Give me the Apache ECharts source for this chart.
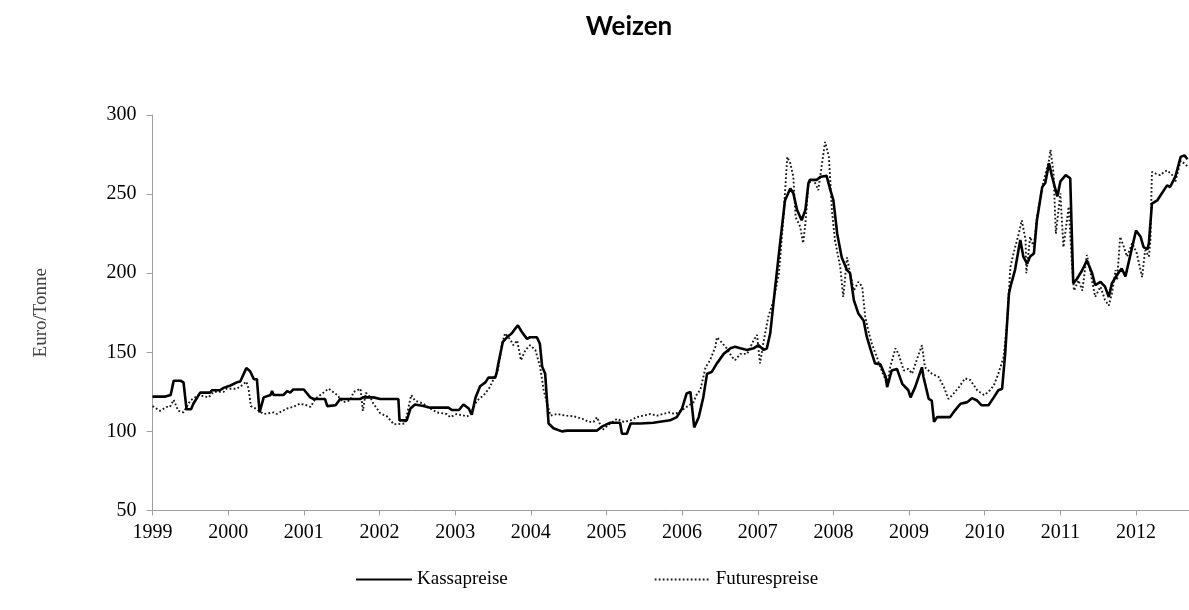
<!DOCTYPE html>
<html>
<head>
<meta charset="utf-8">
<title>Weizen</title>
<script src="https://cdn.jsdelivr.net/npm/echarts@6/dist/echarts.min.js"></script>
<style>
  html, body { margin: 0; padding: 0; background: #fff; }
  #chart { width: 1189px; height: 610px; }
</style>
</head>
<body>
<div id="chart"></div>
<script>
// Kassapreise (Euro/Tonne), Zeitpunkt in Dezimaljahren
var kassaDates = [
  1999.00, 1999.17, 1999.19, 1999.24, 1999.28, 1999.37, 1999.41, 1999.45, 1999.51, 1999.54,
  1999.63, 1999.76, 1999.785, 1999.89, 1999.94, 2000.03, 2000.115, 2000.16, 2000.24, 2000.29,
  2000.34, 2000.38, 2000.415, 2000.47, 2000.56, 2000.58, 2000.60, 2000.73, 2000.78, 2000.82,
  2000.86, 2001.00, 2001.085, 2001.13, 2001.28, 2001.31, 2001.42, 2001.48, 2001.75, 2001.78,
  2001.92, 2002.01, 2002.25, 2002.265, 2002.36, 2002.41, 2002.47, 2002.58, 2002.67, 2002.91,
  2002.96, 2003.05, 2003.11, 2003.18, 2003.22, 2003.27, 2003.33, 2003.40, 2003.44, 2003.53,
  2003.55, 2003.58, 2003.63, 2003.685, 2003.75, 2003.795, 2003.83, 2003.88, 2003.95, 2003.99,
  2004.08, 2004.12, 2004.15, 2004.19, 2004.235, 2004.30, 2004.41, 2004.48, 2004.875, 2004.94,
  2005.05, 2005.18, 2005.205, 2005.27, 2005.32, 2005.45, 2005.62, 2005.84, 2005.93, 2006.00,
  2006.06, 2006.11, 2006.13, 2006.16, 2006.22, 2006.28, 2006.33, 2006.39, 2006.46, 2006.55,
  2006.64, 2006.70, 2006.77, 2006.86, 2006.945, 2007.01, 2007.08, 2007.12, 2007.165, 2007.23,
  2007.30, 2007.36, 2007.43, 2007.47, 2007.52, 2007.58, 2007.63, 2007.67, 2007.69, 2007.78,
  2007.83, 2007.91, 2007.96, 2008.00, 2008.05, 2008.11, 2008.18, 2008.22, 2008.27, 2008.33,
  2008.40, 2008.44, 2008.49, 2008.51, 2008.55, 2008.62, 2008.69, 2008.71, 2008.77, 2008.84,
  2008.91, 2008.99, 2009.02, 2009.08, 2009.17, 2009.19, 2009.26, 2009.30, 2009.33, 2009.37,
  2009.54, 2009.61, 2009.68, 2009.77, 2009.83, 2009.90, 2009.96, 2010.05, 2010.12, 2010.18,
  2010.23, 2010.27, 2010.32, 2010.34, 2010.40, 2010.47, 2010.51, 2010.56, 2010.60, 2010.65,
  2010.69, 2010.76, 2010.80, 2010.85, 2010.89, 2010.96, 2011.00, 2011.07, 2011.13, 2011.17,
  2011.22, 2011.29, 2011.35, 2011.42, 2011.46, 2011.53, 2011.59, 2011.64, 2011.68, 2011.75,
  2011.81, 2011.86, 2011.92, 2012.00, 2012.06, 2012.10, 2012.15, 2012.17, 2012.21, 2012.28,
  2012.32, 2012.41, 2012.45, 2012.52, 2012.59, 2012.64, 2012.68
];
var kassaValues = [
  122, 122, 123, 123, 132, 132, 131, 114, 114, 117.5,
  124.5, 124.5, 126, 126, 127.5, 129, 131, 131.5, 140, 138,
  133, 133, 112, 121.5, 123, 125.5, 123, 123, 125.5, 124.5,
  126.5, 126.5, 121.5, 120.5, 120.5, 116, 116.5, 120.5, 120.5, 121.5,
  121.5, 120.5, 120.5, 107, 107, 114.5, 117, 116, 115, 115,
  113.5, 113.5, 117, 114.5, 110.5, 121.5, 128.5, 131, 134, 134,
  137.5, 145, 156.5, 159.5, 162, 165, 167, 163, 158.5, 159.5,
  159.5, 155.5, 141, 136.5, 105, 102, 100, 100.5, 100.5, 103,
  105.5, 105.5, 98.5, 98.5, 105, 105, 105.5, 107, 109, 114.5,
  124, 125, 124, 102.5, 109, 121.5, 136.5, 137.5, 143, 149,
  152.5, 153.5, 152.5, 151.5, 152.5, 154.5, 151.5, 152.5, 162, 191,
  221, 246, 253.5, 250.5, 240, 233.5, 240, 257, 259, 259,
  261, 261.5, 252.5, 246, 225, 210, 202, 200, 183, 174.5,
  170, 160, 152, 149, 143, 142.5, 134.5, 128, 138.5, 139.5,
  130, 126, 121.5, 128, 140.5, 134.5, 120.5, 119.5, 106, 109,
  109, 113.5, 117.5, 118.5, 121, 119.5, 116.5, 116.5, 121.5, 126,
  127, 149, 187, 191.5, 202, 221, 210.5, 206, 210.5, 212.5,
  233.5, 254.5, 257, 269.5, 261, 248.5, 258, 262, 260, 193.5,
  196.5, 202, 208, 200, 192.5, 194.5, 191.5, 185, 193.5, 199,
  203, 198, 210.5, 227, 223, 216.5, 215, 219, 244, 246,
  249, 255.5, 254.5, 261, 273.5, 274.5, 272
];

// Futurespreise (Euro/Tonne)
var futuresDates = [
  1999.00, 1999.10, 1999.19, 1999.23, 1999.28, 1999.34, 1999.41, 1999.50, 1999.61, 1999.74,
  1999.81, 1999.94, 1999.98, 2000.115, 2000.18, 2000.24, 2000.27, 2000.30, 2000.36, 2000.47,
  2000.60, 2000.64, 2000.78, 2000.86, 2000.95, 2001.04, 2001.09, 2001.15, 2001.30, 2001.33,
  2001.44, 2001.52, 2001.61, 2001.66, 2001.75, 2001.78, 2001.82, 2001.88, 2001.92, 2002.01,
  2002.10, 2002.19, 2002.34, 2002.385, 2002.42, 2002.47, 2002.58, 2002.67, 2002.76, 2002.89,
  2002.935, 2003.02, 2003.16, 2003.20, 2003.29, 2003.38, 2003.46, 2003.53, 2003.56, 2003.62,
  2003.66, 2003.73, 2003.77, 2003.82, 2003.87, 2003.93, 2003.99, 2004.06, 2004.125, 2004.15,
  2004.17, 2004.26, 2004.35, 2004.46, 2004.57, 2004.68, 2004.765, 2004.83, 2004.875, 2004.92,
  2004.95, 2005.05, 2005.14, 2005.23, 2005.32, 2005.40, 2005.58, 2005.67, 2005.82, 2005.91,
  2006.00, 2006.06, 2006.15, 2006.20, 2006.24, 2006.31, 2006.37, 2006.44, 2006.46, 2006.50,
  2006.59, 2006.66, 2006.70, 2006.77, 2006.86, 2006.945, 2006.99, 2007.03, 2007.08, 2007.14,
  2007.21, 2007.28, 2007.34, 2007.39, 2007.43, 2007.47, 2007.50, 2007.56, 2007.60, 2007.63,
  2007.67, 2007.74, 2007.80, 2007.85, 2007.89, 2007.94, 2007.98, 2008.02, 2008.09, 2008.13,
  2008.18, 2008.22, 2008.27, 2008.33, 2008.38, 2008.42, 2008.47, 2008.51, 2008.575, 2008.60,
  2008.71, 2008.75, 2008.82, 2008.86, 2008.93, 2008.99, 2009.04, 2009.10, 2009.17, 2009.21,
  2009.30, 2009.39, 2009.46, 2009.52, 2009.59, 2009.66, 2009.74, 2009.81, 2009.90, 2009.99,
  2010.05, 2010.12, 2010.18, 2010.25, 2010.29, 2010.34, 2010.38, 2010.45, 2010.49, 2010.54,
  2010.55, 2010.60, 2010.65, 2010.69, 2010.76, 2010.85, 2010.87, 2010.91, 2010.94, 2011.00,
  2011.04, 2011.11, 2011.155, 2011.18, 2011.24, 2011.29, 2011.35, 2011.40, 2011.46, 2011.53,
  2011.59, 2011.64, 2011.68, 2011.73, 2011.75, 2011.79, 2011.84, 2011.88, 2011.95, 2012.01,
  2012.08, 2012.12, 2012.17, 2012.19, 2012.21, 2012.26, 2012.32, 2012.37, 2012.41, 2012.48,
  2012.52, 2012.59, 2012.65, 2012.69
];
var futuresValues = [
  116, 113, 115.5, 115.5, 120, 113, 112, 119.5, 123, 121.5,
  125, 125, 127, 127, 129, 131.5, 127, 116, 114.5, 111,
  112, 111, 114.5, 115.5, 117.5, 116.5, 115.5, 120.5, 126, 127,
  123, 118.5, 119.5, 125, 127, 113, 124.5, 121.5, 117.5, 111.5,
  109.5, 104.5, 105, 115.5, 123, 119.5, 117.5, 114.5, 112, 111,
  109, 111, 109.5, 111, 119.5, 123, 128, 135.5, 137, 155.5,
  162, 158, 154.5, 157.5, 145, 151.5, 154.5, 151.5, 140.5, 132.5,
  126, 110, 111, 110, 109.5, 108, 106, 106, 109, 104,
  101, 105, 108, 106, 107, 109, 111, 110, 112, 111,
  113.5, 115.5, 118.5, 124, 126, 140.5, 145, 153.5, 159.5, 157.5,
  152.5, 147, 145, 149, 149, 157.5, 161, 143, 157.5, 172.5,
  183, 200, 235.5, 273.5, 269.5, 261, 235.5, 229.5, 219, 231.5,
  257, 259, 252.5, 269.5, 283, 273.5, 240, 221, 204, 185,
  210, 200, 189, 194.5, 191.5, 172.5, 162, 155, 147, 143,
  130, 140.5, 152.5, 149, 138.5, 139.5, 136.5, 145, 154.5, 140.5,
  136.5, 134.5, 128, 120.5, 124, 128, 133.5, 132.5, 126, 123,
  125, 129, 136.5, 147, 166, 204, 212.5, 225, 233.5, 221,
  200, 223, 216.5, 235.5, 254.5, 271.5, 278, 263, 225, 250.5,
  216.5, 242, 204, 189, 195.5, 189, 211.5, 200, 185, 191.5,
  183, 179.5, 187, 202, 195.5, 223, 216.5, 210.5, 219, 212.5,
  197.5, 214.5, 210.5, 221, 264, 263, 262, 264, 265, 262,
  258, 271, 269, 267
];

var yearMin = 1999;
var yearMax = 2012.7;
var seriesNames = ['Kassapreise', 'Futurespreise'];

function pairs(xs, ys) {
  return xs.map(function (x, i) { return [x, ys[i]]; });
}

var serif = '"Liberation Serif", "DejaVu Serif", serif';
var axisGray = '#9e9e9e';

var chart = echarts.init(document.getElementById('chart'), null, { renderer: 'canvas' });

chart.setOption({
  animation: false,
  backgroundColor: '#ffffff',
  title: {
    text: 'Weizen',
    left: 624,
    top: 9,
    textAlign: 'center',
    textStyle: {
      fontFamily: 'Lato, "Open Sans", sans-serif',
      fontWeight: 'bold',
      fontSize: 26,
      color: '#000'
    }
  },
  legend: {
    data: seriesNames,
    left: 355,
    top: 570,
    padding: 0,
    itemWidth: 56,
    itemHeight: 14,
    itemGap: 146,
    itemStyle: { color: 'rgba(0,0,0,0)', borderWidth: 0, opacity: 0 },
    textStyle: {
      fontFamily: serif,
      fontSize: 19,
      color: '#000'
    }
  },
  grid: {
    left: 152.5,
    right: 0,
    top: 115,
    bottom: 99.5,
    containLabel: false,
    outerBoundsMode: 'none'
  },
  xAxis: {
    type: 'value',
    min: yearMin,
    max: yearMax,
    interval: 1,
    splitLine: { show: false },
    axisLine: { lineStyle: { color: axisGray, width: 1 } },
    axisTick: { show: true, inside: false, length: 5, lineStyle: { color: axisGray } },
    axisLabel: {
      margin: 12,
      fontFamily: serif,
      fontSize: 20,
      color: '#000',
      formatter: function (v) {
        return Math.abs(v - Math.round(v)) < 1e-6 ? String(Math.round(v)) : '';
      }
    }
  },
  yAxis: {
    type: 'value',
    min: 50,
    max: 300,
    interval: 50,
    name: 'Euro/Tonne',
    nameLocation: 'middle',
    nameRotate: 90,
    nameGap: 102,
    nameTextStyle: {
      fontFamily: serif,
      fontSize: 19,
      color: '#444'
    },
    splitLine: { show: false },
    axisLine: { show: true, lineStyle: { color: axisGray, width: 1 } },
    axisTick: { show: true, inside: false, length: 6, lineStyle: { color: axisGray } },
    axisLabel: {
      margin: 16,
      fontFamily: serif,
      fontSize: 20,
      color: '#000'
    }
  },
  series: [
    {
      name: seriesNames[1],
      type: 'line',
      data: pairs(futuresDates, futuresValues),
      symbol: 'none',
      lineStyle: { color: '#1a1a1a', width: 1.9, type: [1.8, 2.2], cap: 'butt' },
      itemStyle: { color: '#1a1a1a' },
      z: 2
    },
    {
      name: seriesNames[0],
      type: 'line',
      data: pairs(kassaDates, kassaValues),
      symbol: 'none',
      lineStyle: { color: '#000', width: 2.6 },
      itemStyle: { color: '#000' },
      z: 3
    }
  ]
});
</script>
</body>
</html>
